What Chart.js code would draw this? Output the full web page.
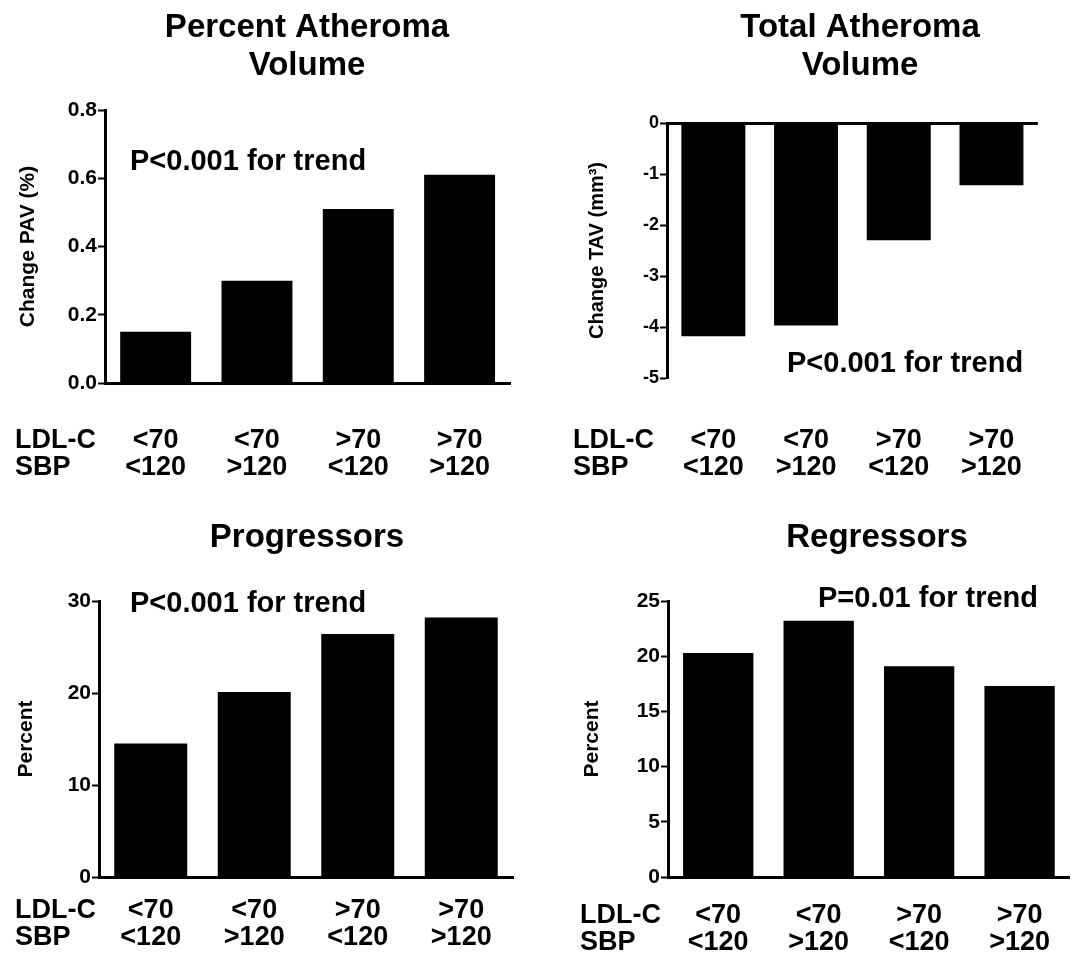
<!DOCTYPE html>
<html><head><meta charset="utf-8">
<script src="https://cdn.jsdelivr.net/npm/chart.js@4.4.1/dist/chart.umd.min.js"></script>
<style>
html,body{margin:0;padding:0;background:#fff;}
#wrap{position:relative;width:1075px;height:964px;overflow:hidden;background:#fff;}
canvas{position:absolute;}
</style></head><body>
<div id="wrap">
<canvas id="c1" width="537" height="482" style="left:0;top:0"></canvas>
<canvas id="c2" width="538" height="482" style="left:537px;top:0"></canvas>
<canvas id="c3" width="537" height="482" style="left:0;top:482px"></canvas>
<canvas id="c4" width="538" height="482" style="left:537px;top:482px"></canvas>
</div>
<script>
// ---- data ----
const ldlGroups = ["<70", "<70", ">70", ">70"];
const sbpGroups = ["<120", ">120", "<120", ">120"];
const rowHeaders = ["LDL-C", "SBP"];
const pavChange = [0.15, 0.30, 0.51, 0.61];
const tavChange = [-4.18, -3.97, -2.30, -1.22];
const progressorsPct = [14.5, 20.1, 26.4, 28.2];
const regressorsPct = [20.3, 23.2, 19.1, 17.3];
const panelTitles = [["Percent Atheroma", "Volume"], ["Total Atheroma", "Volume"], ["Progressors"], ["Regressors"]];
const trendTexts = ["P<0.001 for trend", "P<0.001 for trend", "P<0.001 for trend", "P=0.01 for trend"];
const yTitles = ["Change PAV (%)", "Change TAV (mm\u00B3)", "Percent", "Percent"];

// ---- rendering ----
const FONT = "'Liberation Sans', Arial, Helvetica, sans-serif";
Chart.defaults.color = '#000';

const panelText = {
  id: 'panelText',
  afterDraw(chart, args, o) {
    const ctx = chart.ctx;
    ctx.save();
    ctx.fillStyle = '#000';
    ctx.textBaseline = 'alphabetic';
    ctx.textAlign = 'center';
    ctx.font = `bold ${o.titleSize}px ${FONT}`;
    o.title.forEach((t, i) => ctx.fillText(t, o.titleX, o.titleY + i * o.titleGap));
    ctx.textAlign = 'left';
    ctx.font = `bold ${o.pSize}px ${FONT}`;
    ctx.fillText(o.pText, o.pX, o.pY);
    const xs = chart.scales.x;
    ctx.font = `bold ${o.rowSize}px ${FONT}`;
    ctx.textBaseline = 'middle';
    rowHeaders.forEach((h, i) => ctx.fillText(h, o.rowX, xs.top + o.rowPad + o.rowSize * o.rowLH * (i + 0.5)));
    ctx.restore();
  }
};

const X_SIZE = 27, X_LH = 1.0;

function build(id, values, c) {
  const zeroTop = c.max === 0;
  return new Chart(document.getElementById(id), {
    type: 'bar',
    data: {
      labels: ldlGroups.map((l, i) => [l, sbpGroups[i]]),
      datasets: [{ data: values, backgroundColor: '#000', borderWidth: 0, barPercentage: c.barPct, categoryPercentage: 1 }]
    },
    plugins: [panelText],
    options: {
      responsive: false, animation: false, devicePixelRatio: 1,
      layout: { padding: { left: c.padL, right: c.padR, top: c.padT, bottom: 0 } },
      plugins: {
        legend: { display: false }, tooltip: { enabled: false }, title: { display: false },
        panelText: {
          title: c.title, titleSize: 33, titleX: c.titleX, titleY: c.titleY, titleGap: 38,
          pText: c.pText, pSize: 29, pX: c.pX, pY: c.pY,
          rowX: c.rowX, rowSize: X_SIZE, rowLH: X_LH, rowPad: c.xPad
        }
      },
      scales: {
        x: {
          grid: { display: false, drawTicks: false },
          border: { display: !zeroTop, color: '#000', width: 3 },
          ticks: { color: '#000', font: { family: FONT, size: X_SIZE, weight: 'bold', lineHeight: X_LH }, padding: c.xPad, maxRotation: 0, minRotation: 0, autoSkip: false },
          afterFit: s => { s.height = c.xH; }
        },
        y: {
          min: c.min, max: c.max,
          ticks: { stepSize: c.step, color: '#000', font: { family: FONT, size: c.tickSize, weight: 'bold' }, padding: 1, callback: c.fmt },
          grid: {
            drawOnChartArea: zeroTop,
            color: ctx => (zeroTop && ctx.tick && ctx.tick.value === 0) ? '#000' : 'rgba(0,0,0,0)',
            lineWidth: ctx => (zeroTop && ctx.tick && ctx.tick.value === 0) ? 3 : 1,
            tickColor: '#000', tickWidth: 2, tickLength: 7, drawTicks: true
          },
          border: { display: true, color: '#000', width: 3 },
          title: { display: true, text: c.yTitle, color: '#000', font: { family: FONT, size: c.yTitleSize, weight: 'bold' }, padding: { top: c.yTitlePad, bottom: 0 } },
          afterFit: s => { s.width = c.yW; }
        }
      }
    }
  });
}

build('c1', pavChange, {
  padL: 15, yW: 90, padR: 24, padT: 110, xH: 99, xPad: 44,
  min: 0, max: 0.8, step: 0.2, tickSize: 21, fmt: v => Number(v).toFixed(1),
  yTitle: yTitles[0], yTitleSize: 21, yTitlePad: 1, barPct: 0.7,
  title: panelTitles[0], titleX: 307, titleY: 37,
  pText: trendTexts[0], pX: 130, pY: 170, rowX: 15
});
build('c2', tavChange, {
  padL: 30, yW: 100, padR: 33, padT: 123, xH: 104, xPad: 49,
  min: -5, max: 0, step: 1, tickSize: 18, fmt: v => String(v),
  yTitle: yTitles[1], yTitleSize: 20, yTitlePad: 18, barPct: 0.69,
  title: panelTitles[1], titleX: 323, titleY: 37,
  pText: trendTexts[1], pX: 250, pY: 372, rowX: 36
});
build('c3', progressorsPct, {
  padL: 10, yW: 89, padR: 24, padT: 119, xH: 87, xPad: 20,
  min: 0, max: 30, step: 10, tickSize: 21, fmt: v => String(v),
  yTitle: yTitles[2], yTitleSize: 21, yTitlePad: 4, barPct: 0.705,
  title: panelTitles[2], titleX: 307, titleY: 65,
  pText: trendTexts[2], pX: 130, pY: 130, rowX: 15
});
build('c4', regressorsPct, {
  padL: 30, yW: 101, padR: 0, padT: 119, xH: 87, xPad: 25,
  min: 0, max: 25, step: 5, tickSize: 21, fmt: v => String(v),
  yTitle: yTitles[3], yTitleSize: 21, yTitlePad: 13, barPct: 0.7,
  title: panelTitles[3], titleX: 340, titleY: 65,
  pText: trendTexts[3], pX: 281, pY: 125, rowX: 43
});
</script>
</body></html>
